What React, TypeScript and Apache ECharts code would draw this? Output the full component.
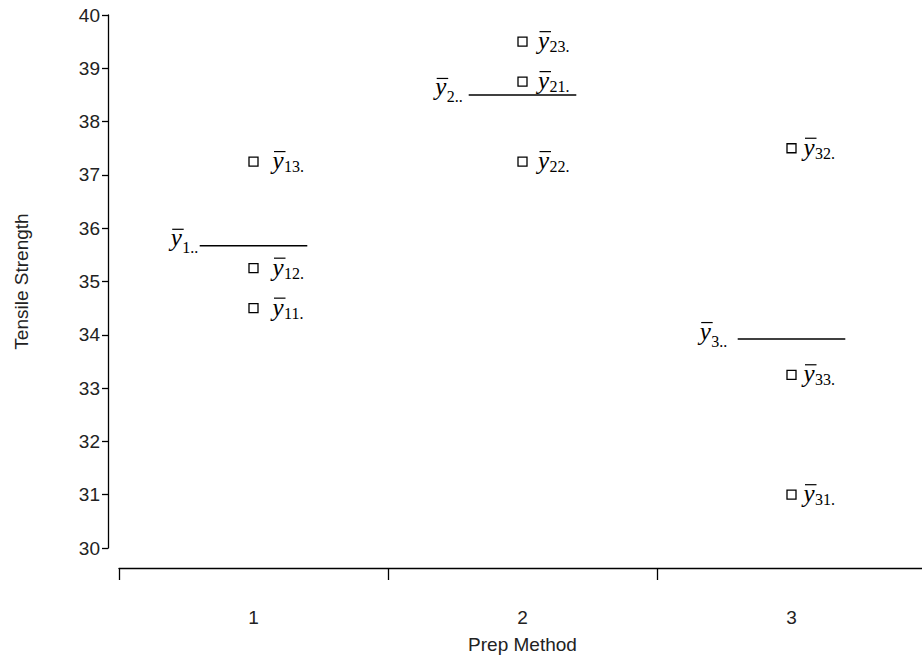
import React, { useEffect, useRef } from 'react';
import * as echarts from 'echarts';

// Categories (preparation methods)
const categories = ['1', '2', '3'];
// Observations per method (y_i1, y_i2, y_i3)
const method1 = [34.5, 35.25, 37.25];
const method2 = [38.75, 37.25, 39.5];
const method3 = [31.0, 37.5, 33.25];
// Method means (ȳ_i..)
const methodMeans = [35.67, 38.5, 33.92];
// Subscript labels
const pointSubs = [
  ['11.', '12.', '13.'],
  ['21.', '22.', '23.'],
  ['31.', '32.', '33.'],
];
const meanSubs = ['1..', '2..', '3..'];
const yMin = 30;
const yMax = 40;
const yStep = 1;

const SERIF = '"Liberation Serif", "Times New Roman", serif';
const SANS = '"Liberation Sans", Arial, sans-serif';

const GLYPH_SIZE = 25;
const SUB_SIZE = 16;

function labelParts(gx: number, baseY: number, sub: string, subDy: number, overDy: number) {
  return [
    {
      type: 'line',
      shape: { x1: gx + 1.5, y1: baseY + overDy, x2: gx + 13, y2: baseY + overDy },
      style: { stroke: '#000', lineWidth: 1.2 },
    },
    {
      type: 'text',
      x: gx,
      y: baseY,
      style: {
        text: 'y',
        fontFamily: SERIF,
        fontStyle: 'italic',
        fontSize: GLYPH_SIZE,
        fill: '#000',
        align: 'left',
        verticalAlign: 'middle',
      },
    },
    {
      type: 'text',
      x: gx + 11.5,
      y: baseY + subDy,
      style: {
        text: sub,
        fontFamily: SERIF,
        fontSize: SUB_SIZE,
        fill: '#000',
        align: 'left',
        verticalAlign: 'middle',
      },
    },
  ];
}

export default function App() {
  const ref = useRef<HTMLDivElement>(null);

  useEffect(() => {
    if (!ref.current) return;
    const chart = echarts.init(ref.current, undefined, { renderer: 'svg' });

    const allMethods = [method1, method2, method3];
    const pointData: number[][] = [];
    const pointLabels: string[] = [];
    allMethods.forEach((vals, ci) => {
      vals.forEach((v, j) => {
        pointData.push([ci, v]);
        pointLabels.push(pointSubs[ci][j]);
      });
    });
    const meanData = methodMeans.map((m, ci) => [ci, m]);

    const option: any = {
      animation: false,
      backgroundColor: '#fff',
      grid: { left: 119, right: 4, top: 15, height: 533, containLabel: false },
      xAxis: {
        type: 'category',
        data: categories,
        boundaryGap: true,
        offset: 20,
        axisLine: { show: true, lineStyle: { color: '#000', width: 1.3 } },
        axisTick: { show: true, length: 12, lineStyle: { color: '#000', width: 1.3 } },
        axisLabel: { margin: 40, fontSize: 19, fontFamily: SANS, color: '#222' },
        splitLine: { show: false },
        name: 'Prep Method',
        nameLocation: 'middle',
        nameGap: 67,
        nameTextStyle: { fontSize: 19, fontFamily: SANS, color: '#222' },
      },
      yAxis: {
        type: 'value',
        min: yMin,
        max: yMax,
        interval: yStep,
        offset: 11,
        axisLine: { show: true, lineStyle: { color: '#000', width: 1.3 } },
        axisTick: { show: true, length: 6, lineStyle: { color: '#000', width: 1.3 } },
        axisLabel: { margin: 8, fontSize: 19, fontFamily: SANS, color: '#222' },
        splitLine: { show: false },
        name: 'Tensile Strength',
        nameLocation: 'middle',
        nameGap: 77,
        nameTextStyle: { fontSize: 19, fontFamily: SANS, color: '#222' },
      },
      series: [
        {
          type: 'custom',
          name: 'observations',
          data: pointData,
          clip: false,
          renderItem: (params: any, api: any) => {
            const ci = api.value(0);
            const v = api.value(1);
            const p = api.coord([ci, v]);
            const x = p[0];
            const y = p[1];
            const sub = pointLabels[params.dataIndex];
            const gx = x + 19 - 3.5 * ci;
            return {
              type: 'group',
              children: [
                {
                  type: 'rect',
                  shape: { x: x - 4.5, y: y - 4.5, width: 9, height: 9 },
                  style: { fill: 'none', stroke: '#000', lineWidth: 1.3 },
                },
                ...labelParts(gx, y - 1, sub, 6, -9),
              ],
            };
          },
        },
        {
          type: 'custom',
          name: 'means',
          data: meanData,
          clip: false,
          renderItem: (params: any, api: any) => {
            const ci = api.value(0);
            const m = api.value(1);
            const p = api.coord([ci, m]);
            const half = api.size([1, 0])[0] * 0.2;
            const x0 = p[0] - half;
            const x1 = p[0] + half;
            const y = p[1];
            const gx = x0 - 29 - 4.5 * ci;
            return {
              type: 'group',
              children: [
                {
                  type: 'line',
                  shape: { x1: x0, y1: y, x2: x1, y2: y },
                  style: { stroke: '#000', lineWidth: 1.5 },
                },
                ...labelParts(gx, y - 8, meanSubs[params.dataIndex], 10, -8.5),
              ],
            };
          },
        },
      ],
    };

    chart.setOption(option);
    return () => {
      chart.dispose();
    };
  }, []);

  return (
    <div style={{ position: 'fixed', left: 0, top: 0, width: 922, height: 659, overflow: 'hidden', background: '#fff' }}>
      <div ref={ref} style={{ width: 930, height: 659 }} />
    </div>
  );
}
